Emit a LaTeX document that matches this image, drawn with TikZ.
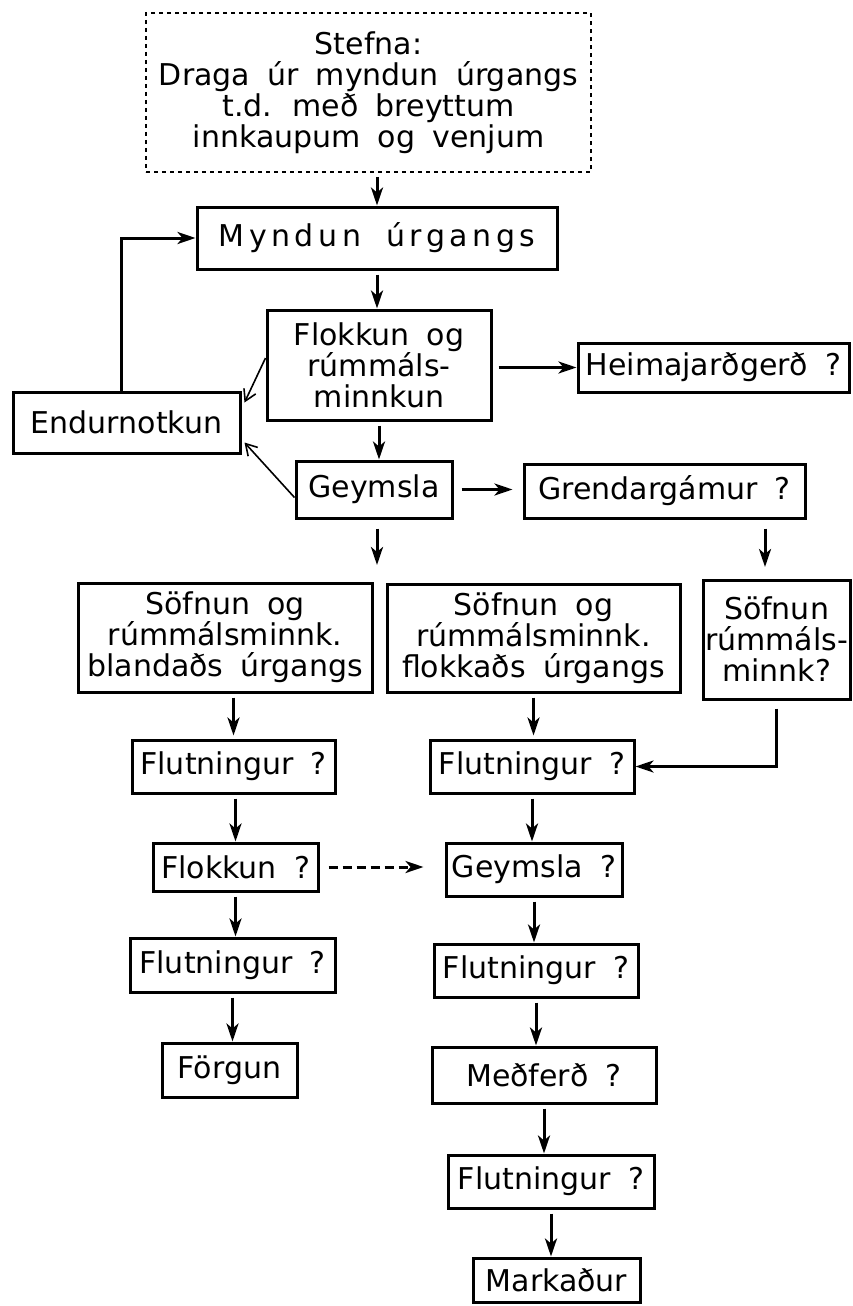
\documentclass[tikz,border=0pt]{standalone}
\usepackage{fontspec}
\setmainfont{DejaVu Sans}[WordSpace=1.8]
\usetikzlibrary{arrows.meta}

\begin{document}
\begin{tikzpicture}[x=1pt, y=-1pt,
  box/.style={draw, line width=3pt, inner sep=0pt, align=center, font=\fontsize{30}{31}\selectfont},
  goal/.style={box, line width=1.5pt, dash pattern=on 4pt off 4pt},
  arr/.style={line width=3pt, -{Stealth[length=18pt,width=12pt,inset=5pt]}, shorten <=4pt},
  back/.style={line width=1.6pt, -{Straight Barb[length=11pt,width=13pt]}}]
\useasboundingbox (0,0) rectangle (853,1306);

\node[goal, minimum width=445pt, minimum height=159pt] (stefna) at (368.5,92.5) {Stefna:\\Draga úr myndun úrgangs\\t.d. með breyttum\\innkaupum og venjum};
\node[box, minimum width=360pt, minimum height=62pt] (myndun) at (377,238) {\addfontfeature{LetterSpace=15}Myndun úrgangs};
\node[box, minimum width=224pt, minimum height=110pt] (flokk) at (379,365) {Flokkun og\\rúmmáls-\\minnkun};
\node[box, minimum width=271pt, minimum height=49pt] (heima) at (713.5,367.5) {Heimajarðgerð ?};
\node[box, minimum width=227pt, minimum height=61pt] (endur) at (126.5,422.5) {Endurnotkun};
\node[box, minimum width=156pt, minimum height=57pt] (geym) at (374,489.5) {Geymsla};
\node[box, minimum width=281pt, minimum height=54pt] (grendar) at (664.5,491) {Grendargámur ?};
\node[box, minimum width=294pt, minimum height=109pt] (sofnA) at (225,637.5) {Söfnun og\\rúmmálsminnk.\\blandaðs úrgangs};
\node[box, minimum width=293pt, minimum height=108pt] (sofnB) at (533.5,638) {Söfnun og\\rúmmálsminnk.\\flokkaðs úrgangs};
\node[box, minimum width=147pt, minimum height=119pt] (sofnC) at (776.5,639.5) {Söfnun\\rúmmáls-\\minnk?};
\node[box, minimum width=203pt, minimum height=53pt] (flutA) at (233.5,766.5) {Flutningur ?};
\node[box, minimum width=204pt, minimum height=53pt] (flutB) at (532,766.5) {Flutningur ?};
\node[box, minimum width=165pt, minimum height=48pt] (flokkQ) at (235.5,867) {Flokkun ?};
\node[box, minimum width=176pt, minimum height=53pt] (geymQ) at (534,869.5) {Geymsla ?};
\node[box, minimum width=205pt, minimum height=54pt] (flutC) at (232.5,965) {Flutningur ?};
\node[box, minimum width=204pt, minimum height=53pt] (flutD) at (536,970.5) {Flutningur ?};
\node[box, minimum width=135pt, minimum height=54pt] (forgun) at (229.5,1070) {Förgun};
\node[box, minimum width=224pt, minimum height=56pt] (medferd) at (544,1075) {Meðferð ?};
\node[box, minimum width=206pt, minimum height=53pt] (flutE) at (551,1181.5) {Flutningur ?};
\node[box, minimum width=167pt, minimum height=44pt] (markadur) at (556.5,1280) {Markaður};

\coordinate (gdown) at (377,565);
\coordinate (gcend) at (765,567);

\draw[arr] (myndun.north |- stefna.south) -- (myndun.north);
\draw[arr] (myndun.south) -- (myndun.south |- flokk.north);
\draw[arr, shorten <=6pt] (flokk.east |- heima.west) -- (heima.west);
\draw[arr] (flokk.south) -- (flokk.south |- geym.north);
\draw[arr, shorten <=8pt, shorten >=10pt] (geym.east) -- (geym.east -| grendar.west);
\draw[arr, shorten <=9pt] (geym.south -| gdown) -- (gdown);
\draw[arr, shorten <=9pt] (grendar.south -| gcend) -- (gcend);
\draw[arr, shorten >=3pt] (sofnA.south -| flutA.north) -- (flutA.north);
\draw[arr, shorten >=3pt] (sofnB.south) -- (sofnB.south |- flutB.north);
\draw[arr, shorten <=8pt] (sofnC.south) |- (flutB.east);
\draw[arr] (flutA.south -| flokkQ.north) -- (flokkQ.north);
\draw[arr] (flokkQ.south) -- (flokkQ.south |- flutC.north);
\draw[arr] (flutC.south) -- (flutC.south |- forgun.north);
\draw[arr] (flutB.south) -- (flutB.south |- geymQ.north);
\draw[arr, dash pattern=on 9pt off 5pt, shorten <=9pt, shorten >=21pt] (flokkQ.east) -- (flokkQ.east -| geymQ.west);
\draw[arr] (geymQ.south) -- (geymQ.south |- flutD.north);
\draw[arr] (flutD.south) -- (flutD.south |- medferd.north);
\draw[arr] (medferd.south) -- (medferd.south |- flutE.north);
\draw[arr] (flutE.south) -- (flutE.south |- markadur.north);
\draw[arr, shorten <=0pt] ([xshift=-5pt]endur.north) |- (myndun.west);
\draw[back] ([yshift=7pt]flokk.west) -- ([yshift=20pt,xshift=3pt]endur.east);
\draw[back] ([yshift=-8pt]geym.west) -- ([yshift=-20pt,xshift=3pt]endur.east);
\end{tikzpicture}
\end{document}
